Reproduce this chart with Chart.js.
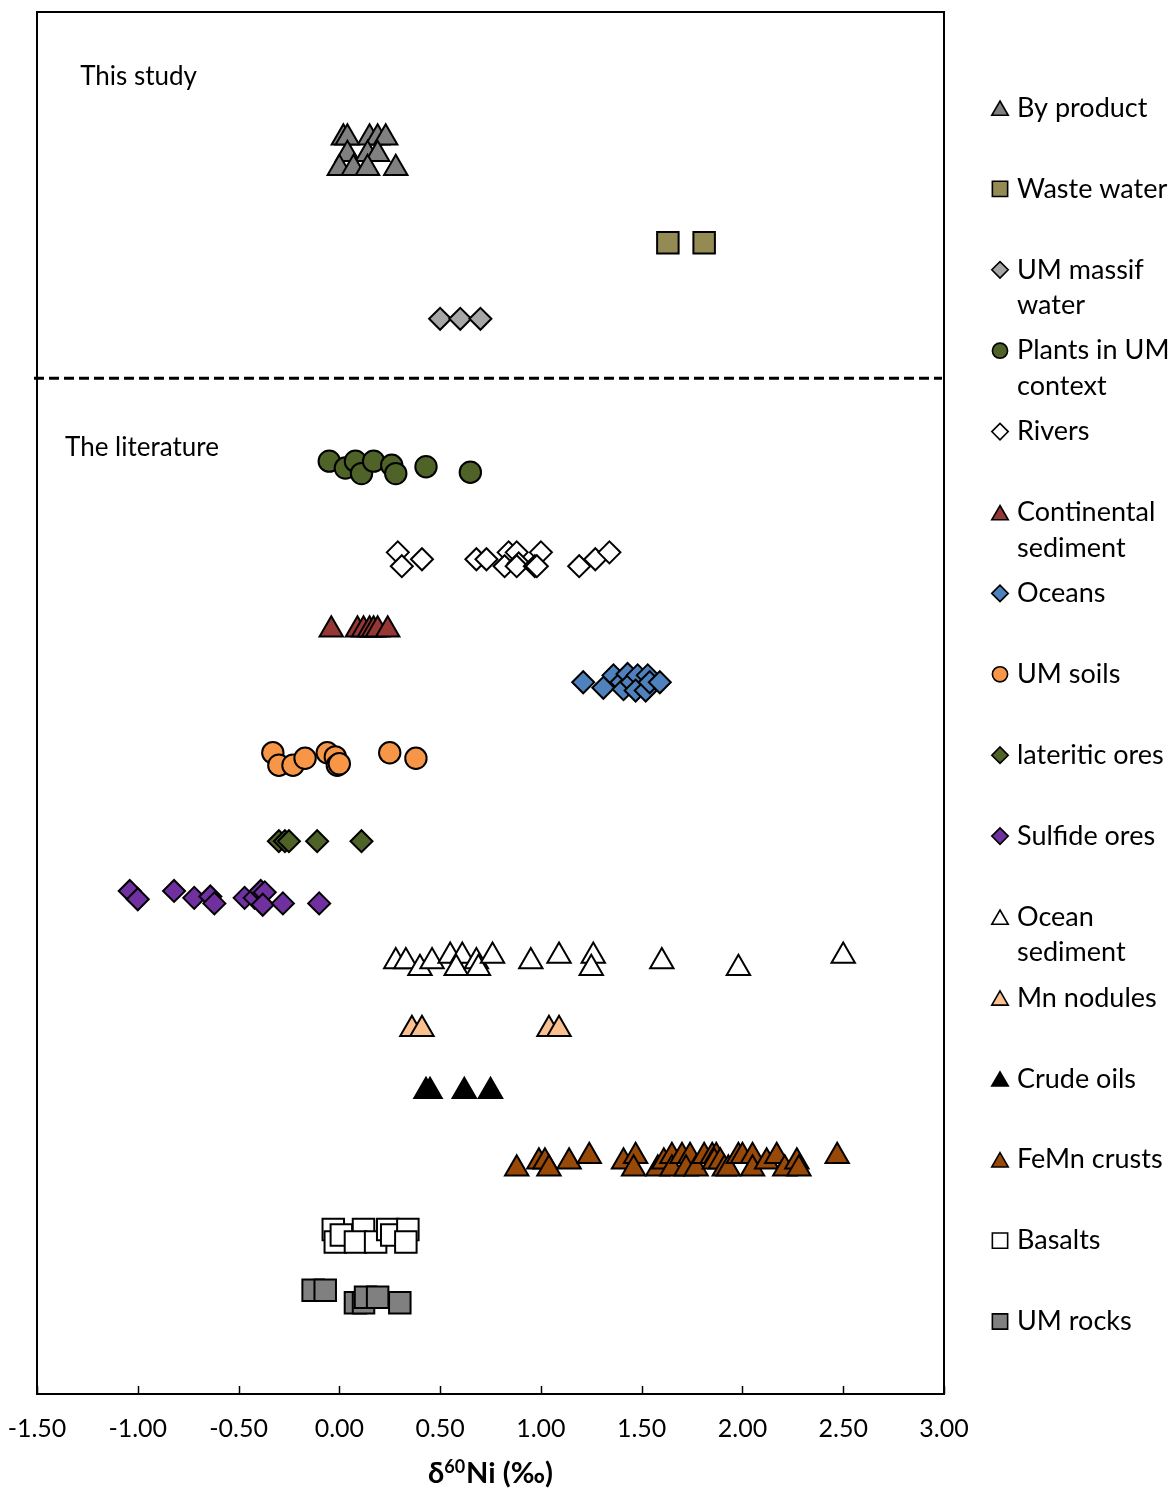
<!DOCTYPE html>
<html>
<head>
<meta charset="utf-8">
<title>δ60Ni by reservoir</title>
<script src="https://cdn.jsdelivr.net/npm/chart.js@4.4.0/dist/chart.umd.min.js"></script>
<style>
  html, body { margin: 0; padding: 0; background: #fff; }
  #wrap { width: 1172px; height: 1490px; }
</style>
</head>
<body>
<div id="wrap"><canvas id="chart" width="1172" height="1490"></canvas></div>
<script>
// δ60Ni values (‰) per reservoir; second number is the row position on a 0–100 vertical scale
const byProduct = [[0.02,90.9],[0.04,90.9],[0.15,90.9],[0.19,90.9],[0.23,90.9],
                   [0.04,89.7],[0.14,89.7],[0.19,89.7],
                   [0.00,88.7],[0.07,88.7],[0.14,88.7],[0.28,88.7]];
const wasteWater = [[1.63,83.3],[1.81,83.3]];
const umMassifWater = [[0.50,77.8],[0.60,77.8],[0.70,77.8]];
const plantsUM = [[-0.05,67.5],[0.03,67.0],[0.08,67.5],[0.11,66.6],[0.17,67.5],[0.26,67.2],[0.28,66.6],[0.43,67.1],[0.65,66.7]];
const rivers = [[0.29,60.9],[0.31,59.9],[0.41,60.4],[0.68,60.4],[0.73,60.4],[0.84,60.9],[0.88,60.9],[0.82,59.9],
                [0.89,60.1],[0.88,59.9],[1.00,60.9],[0.97,59.9],[0.98,59.9],[1.19,59.9],[1.27,60.4],[1.34,60.9]];
const continentalSed = [[-0.04,55.3],[0.09,55.3],[0.12,55.3],[0.15,55.3],[0.17,55.3],[0.19,55.3],[0.24,55.3]];
const oceans = [[1.21,51.5],[1.31,51.1],[1.36,52.0],[1.40,51.5],[1.41,51.0],[1.43,52.1],[1.45,51.5],
                [1.48,52.0],[1.47,50.9],[1.52,50.9],[1.53,52.0],[1.54,51.5],[1.59,51.5]];
const umSoils = [[-0.33,46.4],[-0.30,45.5],[-0.23,45.5],[-0.17,46.0],[-0.06,46.4],[-0.02,46.1],[-0.01,45.5],[0.00,45.6],[0.25,46.4],[0.38,46.0]];
const lateriticOres = [[-0.30,40.0],[-0.27,40.0],[-0.25,40.0],[-0.11,40.0],[0.11,40.0]];
const sulfideOres = [[-1.04,36.4],[-1.00,35.8],[-0.82,36.4],[-0.72,35.9],[-0.64,36.0],[-0.62,35.5],[-0.47,35.9],
                     [-0.42,35.9],[-0.39,36.4],[-0.37,36.3],[-0.38,35.4],[-0.28,35.5],[-0.10,35.5]];
const oceanSed = [[0.28,31.3],[0.33,31.3],[0.40,30.8],[0.46,31.3],[0.55,31.7],[0.61,31.7],[0.58,30.8],[0.68,31.3],[0.69,30.8],
                  [0.76,31.7],[0.95,31.3],[1.09,31.7],[1.26,31.7],[1.25,30.8],[1.60,31.3],[1.98,30.8],[2.50,31.7]];
const mnNodules = [[0.36,26.4],[0.41,26.4],[1.04,26.4],[1.09,26.4]];
const crudeOils = [[0.43,21.9],[0.45,21.9],[0.62,21.9],[0.75,21.9]];
const feMnCrusts = [[0.88,16.3],[0.99,16.8],[1.02,16.8],[1.04,16.3],[1.14,16.8],[1.24,17.2],[1.41,16.8],[1.47,17.2],[1.46,16.3],
                    [1.58,16.3],[1.61,16.8],[1.65,17.2],[1.65,16.3],[1.70,17.2],[1.74,17.2],[1.72,16.3],[1.77,16.3],[1.81,17.2],
                    [1.85,17.2],[1.87,17.2],[1.86,16.8],[1.89,16.8],[1.91,16.3],[1.93,16.3],[1.98,17.2],[2.00,17.2],[2.05,17.2],
                    [2.05,16.3],[2.12,16.8],[2.17,17.2],[2.21,16.3],[2.27,16.8],[2.28,16.3],[2.47,17.2]];
const basalts = [[-0.03,11.9],[-0.02,11.0],[0.01,11.5],[0.12,11.9],[0.08,11.0],[0.18,11.0],[0.24,11.9],[0.26,11.5],[0.34,11.9],[0.33,11.0]];
const umRocks = [[-0.13,7.5],[-0.07,7.5],[0.08,6.6],[0.12,6.6],[0.13,7.0],[0.19,7.0],[0.30,6.6]];

// Series names and how they wrap in the legend
const seriesNames = ['By product','Waste water','UM massif water','Plants in UM context','Rivers','Continental sediment',
                     'Oceans','UM soils','lateritic ores','Sulfide ores','Ocean sediment','Mn nodules','Crude oils',
                     'FeMn crusts','Basalts','UM rocks'];
const legendLines = [['By product'],['Waste water'],['UM massif','water'],['Plants in UM','context'],['Rivers'],
                     ['Continental','sediment'],['Oceans'],['UM soils'],['lateritic ores'],['Sulfide ores'],
                     ['Ocean','sediment'],['Mn nodules'],['Crude oils'],['FeMn crusts'],['Basalts'],['UM rocks']];
const seriesData = [byProduct, wasteWater, umMassifWater, plantsUM, rivers, continentalSed, oceans, umSoils,
                    lateriticOres, sulfideOres, oceanSed, mnNodules, crudeOils, feMnCrusts, basalts, umRocks];

// x-axis ticks and title pieces (delta, superscript mass number, remainder)
const xTickValues = [-1.5,-1.0,-0.5,0.0,0.5,1.0,1.5,2.0,2.5,3.0];
const xMin = -1.5, xMax = 3.0;
const xTitleParts = ['δ', '60', 'Ni (‰)'];

// Section labels and the divider between them
const sectionLabels = ['This study','The literature'];
const sectionLabelPos = [[-1.286,95.3],[-1.361,68.5]];
const dividerY = 73.5;

// Marker appearance per series
const markerStyle = [
  {shape:'triangle', fill:'#808080'},
  {shape:'rect',     fill:'#948A54'},
  {shape:'rectRot',  fill:'#A6A6A6'},
  {shape:'circle',   fill:'#4F6228'},
  {shape:'rectRot',  fill:'#FFFFFF'},
  {shape:'triangle', fill:'#953735'},
  {shape:'rectRot',  fill:'#4F81BD'},
  {shape:'circle',   fill:'#F79646'},
  {shape:'rectRot',  fill:'#4F6228'},
  {shape:'rectRot',  fill:'#7030A0'},
  {shape:'triangle', fill:'#FFFFFF'},
  {shape:'triangle', fill:'#FAC090'},
  {shape:'triangle', fill:'#000000'},
  {shape:'triangle', fill:'#984807'},
  {shape:'rect',     fill:'#FFFFFF'},
  {shape:'rect',     fill:'#808080'}
];
const plotRadius   = {triangle:13.5, rect:15.2, rectRot:11, circle:10.7};
const legendRadius = {triangle:9.5, rect:10.8, rectRot:8.2, circle:7.6};

const FONT = 'Lato, "Noto Sans", sans-serif';

const datasets = seriesData.map((pts, i) => ({
  label: seriesNames[i],
  data: pts.map(([x, y]) => ({x, y})),
  pointStyle: markerStyle[i].shape,
  pointRadius: plotRadius[markerStyle[i].shape],
  backgroundColor: markerStyle[i].fill,
  borderColor: '#000',
  pointBorderWidth: 2,
  showLine: false,
  clip: false
}));

// Plot frame, inward tick marks, dashed divider and section labels
const framePlugin = {
  id: 'frame',
  beforeDatasetsDraw(chart) {
    const {ctx, chartArea: a, scales: {x, y}} = chart;
    ctx.save();
    ctx.strokeStyle = '#000';
    ctx.lineWidth = 2;
    ctx.strokeRect(a.left, a.top, a.right - a.left, a.bottom - a.top);
    ctx.lineWidth = 1.5;
    x.ticks.forEach(t => {
      const px = Math.round(x.getPixelForValue(t.value)) + 0.5;
      ctx.beginPath();
      ctx.moveTo(px, a.bottom);
      ctx.lineTo(px, a.bottom - 8);
      ctx.stroke();
    });
    const py = y.getPixelForValue(dividerY);
    ctx.lineWidth = 3;
    ctx.setLineDash([10, 5]);
    ctx.beginPath();
    ctx.moveTo(a.left - 3, py);
    ctx.lineTo(a.right - 2, py);
    ctx.stroke();
    ctx.setLineDash([]);
    ctx.fillStyle = '#000';
    ctx.font = '26px ' + FONT;
    ctx.textAlign = 'left';
    ctx.textBaseline = 'middle';
    sectionLabels.forEach((txt, i) => {
      ctx.fillText(txt, x.getPixelForValue(sectionLabelPos[i][0]), y.getPixelForValue(sectionLabelPos[i][1]));
    });
    ctx.restore();
  }
};

// x-axis title with a raised mass number
const axisTitle = {
  id: 'axisTitle',
  afterDraw(chart) {
    const {ctx, chartArea: a} = chart;
    const big = 'bold 29px ' + FONT, small = 'bold 18px ' + FONT;
    ctx.save();
    ctx.fillStyle = '#000';
    ctx.textBaseline = 'alphabetic';
    ctx.textAlign = 'left';
    ctx.font = big;  const w0 = ctx.measureText(xTitleParts[0]).width;
    const w2 = ctx.measureText(xTitleParts[2]).width;
    ctx.font = small; const w1 = ctx.measureText(xTitleParts[1]).width;
    const total = w0 + w1 + 1 + w2;
    let cx = (a.left + a.right) / 2 - total / 2;
    const base = a.bottom + 89;
    ctx.font = big;   ctx.fillText(xTitleParts[0], cx, base); cx += w0;
    ctx.font = small; ctx.fillText(xTitleParts[1], cx, base - 10); cx += w1 + 1;
    ctx.font = big;   ctx.fillText(xTitleParts[2], cx, base);
    ctx.restore();
  }
};

// Legend to the right of the plot, with wrapped labels
const sideLegend = {
  id: 'sideLegend',
  afterDraw(chart) {
    const {ctx, chartArea: a} = chart;
    const markerX = a.right + 56;
    const textX = a.right + 73;
    const top = a.top + 96;
    const step = 80.9;
    const lineH = 35.5;
    ctx.save();
    ctx.font = '27px ' + FONT;
    ctx.textAlign = 'left';
    ctx.textBaseline = 'middle';
    chart.data.datasets.forEach((ds, i) => {
      const cy = top + i * step;
      ctx.fillStyle = ds.backgroundColor;
      ctx.strokeStyle = '#000';
      ctx.lineWidth = 1.6;
      const shape = ds.pointStyle;
      Chart.helpers.drawPoint(ctx, {pointStyle: shape, radius: legendRadius[shape], borderWidth: 1.6, rotation: 0},
        markerX, shape === 'triangle' ? cy + 2.5 : cy);
      ctx.fillStyle = '#000';
      legendLines[i].forEach((line, j) => ctx.fillText(line, textX, cy + j * lineH));
    });
    ctx.restore();
  }
};

new Chart(document.getElementById('chart'), {
  type: 'scatter',
  data: {datasets},
  options: {
    responsive: false,
    animation: false,
    events: [],
    layout: {autoPadding: false, padding: {left: 37, right: 228, top: 12, bottom: 0}},
    plugins: {legend: {display: false}, tooltip: {enabled: false}},
    scales: {
      x: {
        type: 'linear',
        min: xMin,
        max: xMax,
        afterBuildTicks(scale) { scale.ticks = xTickValues.map(v => ({value: v})); },
        afterFit(scale) {
          scale.height = 96;
          scale.paddingLeft = 0; scale.paddingRight = 0;
          scale.paddingTop = 0; scale.paddingBottom = 0;
        },
        grid: {display: false, drawTicks: false},
        border: {display: false},
        ticks: {
          padding: 20,
          color: '#000',
          font: {family: FONT, size: 25},
          maxRotation: 0,
          callback: v => v.toFixed(2)
        },
        title: {display: false}
      },
      y: {type: 'linear', min: 0, max: 100, display: false}
    }
  },
  plugins: [framePlugin, axisTitle, sideLegend]
});
</script>
</body>
</html>
